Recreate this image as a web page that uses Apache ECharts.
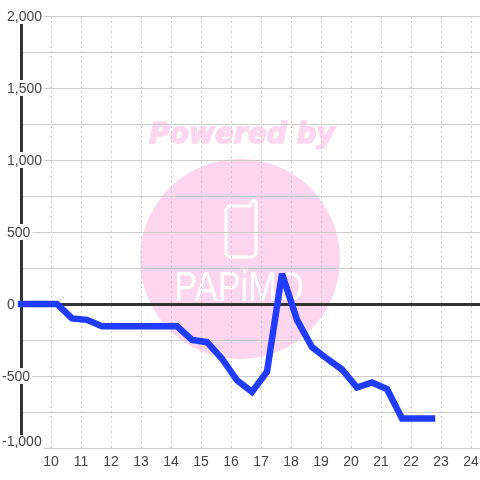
<!DOCTYPE html>
<html><head><meta charset="utf-8">
<style>html,body{margin:0;padding:0;background:#fff}#c{width:480px;height:480px}</style>
<script src="https://cdn.jsdelivr.net/npm/echarts@6/dist/echarts.min.js"></script>
</head><body><div id="c"></div>
<script>
var xValues=[9,10.2,10.7,11.2,11.7,12.2,12.7,13.2,13.7,14.2,14.7,15.2,15.7,16.2,16.7,17.2,17.7,18.2,18.7,19.2,19.7,20.2,20.7,21.2,21.7,22.2,22.7];
var yValues=[0,0,-100,-110,-155,-155,-155,-155,-155,-155,-250,-265,-380,-530,-610,-470,210,-110,-300,-380,-455,-580,-545,-590,-795,-795,-795];
var chart=echarts.init(document.getElementById('c'),null,{renderer:'canvas'});
var labelFont={color:'#444',fontSize:14,fontFamily:'"Liberation Sans"',backgroundColor:'#fff'};
chart.setOption({
 animation:false,backgroundColor:'#fff',
 grid:{left:21,right:-21,top:16,bottom:32,outerBoundsMode:'none'},
 graphic:[
  {type:'circle',z:-10,shape:{cx:240,cy:259,r:100},style:{fill:'#fcd6ee'}},
  {type:'text',z:-10,x:242,y:136,style:{text:'Powered by',fill:'#fcd6ee',stroke:'#fcd6ee',lineWidth:1.5,font:'italic bold 28px "DejaVu Sans"',align:'center',verticalAlign:'middle'}},
  {type:'polygon',z:-9,shape:{points:[[229,206],[250,206],[252,201],[254,200],[256,201],[256,254],[253,257],[229,257],[226,254],[226,209]]},style:{fill:'none',stroke:'#fff',lineWidth:3,lineJoin:'round'}},
  {type:'text',z:-9,x:239,y:289,scaleX:0.82,style:{text:'PAPiMO',fill:'#fff',font:'42px "Liberation Sans"',align:'center',verticalAlign:'middle'}}
 ],
 xAxis:[{type:'value',min:9,max:25,interval:1,position:'bottom',
  axisLine:{onZero:false,show:false},axisTick:{show:false},
  axisLabel:{showMinLabel:false,color:'#444',fontSize:14,fontFamily:'"Liberation Sans"',margin:7},
  splitLine:{show:true,lineStyle:{color:'#ccc',type:[2,3],width:1}}},
 {type:'value',min:9,max:25,interval:1,
  axisLine:{show:true,onZero:true,lineStyle:{color:'#333',width:3}},axisTick:{show:false},axisLabel:{show:false},splitLine:{show:false}}],
 yAxis:{type:'value',min:-1000,max:2000,interval:250,
  axisLine:{show:true,onZero:false,lineStyle:{color:'#333',width:3}},axisTick:{show:false},
  splitLine:{lineStyle:{color:'#ccc',width:1}},
  axisLabel:{margin:19,align:'left',color:'#444',fontSize:14,fontFamily:'"Liberation Sans"',
   formatter:function(v){
    if(Math.abs(v)%500!==0)return '';
    var s=Math.abs(v).toLocaleString('en-US');
    if(v===-1000)return '{m|-'+s+'}';
    return v<0?'{n|-'+s+'}':'{p|'+s+'}';},
   rich:{p:Object.assign({padding:[2,2,0,5]},labelFont),n:Object.assign({padding:[2,2,0,0]},labelFont),m:Object.assign({padding:[0,2,12,0]},labelFont)}}},
 series:[{type:'line',xAxisIndex:0,data:xValues.map(function(x,i){return [x,yValues[i]];}),showSymbol:false,symbol:'none',
  lineStyle:{color:'#1f3cff',width:6.5,cap:'square',join:'miter',miterLimit:2}}]
});
</script></body></html>
